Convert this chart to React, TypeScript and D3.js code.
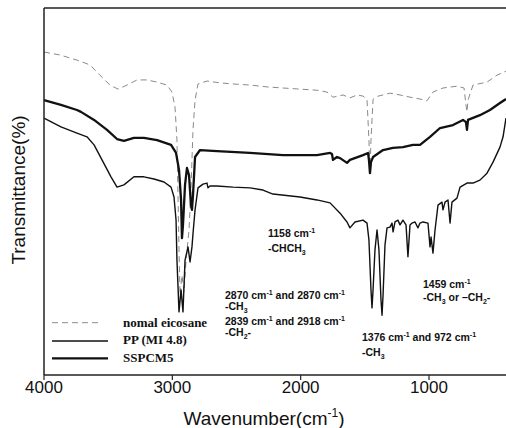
import React from "react";
import * as d3 from "d3";

// FTIR spectra: [wavenumber (cm^-1), transmittance (%)]
const eicosane: [number, number][] = [
  [4000, 88.0], [3875, 87.2], [3743, 85.8], [3642, 84.5], [3564, 81.7], [3486, 79.0],
  [3423, 77.9], [3353, 79.0], [3275, 80.4], [3197, 80.4], [3119, 79.8], [3042, 79.0],
  [3003, 77.1], [2979, 73.0], [2964, 64.0], [2948, 34.1], [2940, 21.8], [2925, 27.2],
  [2909, 22.6], [2893, 31.3], [2870, 39.5], [2855, 50.4], [2839, 66.8], [2823, 74.9],
  [2800, 79.3], [2730, 80.1], [2629, 79.6], [2527, 79.3], [2395, 79.0], [2262, 78.5],
  [2138, 78.2], [2005, 77.9], [1873, 77.6], [1795, 77.1], [1748, 75.7], [1670, 76.3],
  [1616, 75.5], [1561, 76.3], [1514, 76.0], [1483, 75.1], [1468, 64.0], [1460, 55.3],
  [1452, 64.0], [1436, 75.1], [1405, 75.9], [1304, 76.8], [1226, 76.3], [1148, 75.7],
  [1070, 75.2], [1016, 74.7], [969, 77.1], [891, 78.2], [782, 78.7], [727, 78.2],
  [712, 73.6], [704, 71.7], [696, 74.9], [657, 79.0], [548, 79.8], [470, 81.7], [400, 82.8],
];

const ppMi48: [number, number][] = [
  [4000, 70.0], [3868, 67.6], [3743, 65.9], [3665, 64.9], [3610, 62.7], [3548, 58.6],
  [3478, 54.0], [3431, 51.2], [3377, 51.8], [3299, 54.0], [3221, 54.0], [3143, 53.4],
  [3065, 52.6], [3010, 51.2], [2987, 48.5], [2971, 42.2], [2964, 31.3], [2948, 17.2],
  [2932, 23.2], [2917, 17.2], [2901, 31.3], [2878, 34.9], [2862, 30.8], [2847, 34.9],
  [2839, 38.5], [2823, 45.0], [2800, 51.0], [2761, 52.0], [2730, 52.3], [2722, 51.0],
  [2706, 51.5], [2652, 51.5], [2527, 51.2], [2395, 51.0], [2294, 50.4], [2216, 49.3],
  [2005, 48.5], [1873, 47.7], [1771, 46.9], [1693, 44.1], [1639, 41.7], [1616, 40.1],
  [1577, 41.7], [1514, 42.2], [1483, 41.4], [1468, 36.8], [1452, 23.2], [1444, 18.3],
  [1436, 23.2], [1421, 34.1], [1405, 39.5], [1390, 34.1], [1374, 20.4], [1366, 16.3],
  [1358, 21.8], [1343, 35.4], [1327, 40.1], [1304, 40.3], [1288, 41.4], [1280, 39.0],
  [1265, 41.7], [1242, 42.2], [1226, 40.9], [1203, 42.2], [1179, 40.9], [1164, 32.2],
  [1148, 40.9], [1132, 41.4], [1109, 41.7], [1086, 40.1], [1070, 41.4], [1047, 41.7],
  [1008, 41.4], [992, 34.9], [984, 37.6], [969, 33.2], [953, 39.5], [930, 46.3],
  [899, 47.1], [891, 45.0], [875, 47.1], [852, 47.7], [836, 41.4], [821, 47.1],
  [782, 48.2], [758, 51.2], [704, 52.3], [657, 52.3], [603, 53.1], [548, 55.0],
  [501, 58.0], [447, 62.1], [423, 64.9], [400, 70.0],
];

const sspcm5: [number, number][] = [
  [4000, 74.9], [3868, 73.6], [3743, 72.2], [3712, 71.7], [3610, 69.5], [3509, 66.8],
  [3431, 64.3], [3377, 63.8], [3299, 64.6], [3221, 64.6], [3119, 64.0], [3010, 62.7],
  [2971, 60.5], [2948, 55.9], [2932, 47.7], [2925, 37.3], [2917, 40.9], [2901, 51.8],
  [2886, 56.4], [2870, 54.5], [2855, 46.3], [2847, 45.0], [2839, 49.0], [2823, 59.4],
  [2784, 61.3], [2652, 61.0], [2395, 60.5], [2138, 59.9], [1873, 59.9], [1771, 60.5],
  [1756, 60.2], [1748, 58.6], [1717, 59.4], [1693, 59.1], [1639, 57.8], [1616, 58.6],
  [1514, 59.9], [1475, 60.5], [1468, 58.6], [1460, 55.0], [1452, 58.0], [1436, 59.4],
  [1358, 61.3], [1281, 61.9], [1203, 62.1], [1125, 62.7], [1070, 62.7], [992, 64.9],
  [914, 67.3], [813, 68.1], [735, 69.5], [712, 68.9], [704, 66.8], [696, 69.5],
  [603, 70.8], [525, 72.2], [447, 74.1], [400, 75.2],
];

const xTicks = [4000, 3000, 2000, 1000];

const legendLabels = ["nomal eicosane", "PP (MI 4.8)", "SSPCM5"];

const W = 506;
const H = 428;
const left = 44;
const right = 506;
const top = 8;
const bottom = 375;

const x = d3.scaleLinear().domain([4000, 400]).range([left, right]);
const y = d3.scaleLinear().domain([0, 100]).range([bottom, top]);

const line = d3
  .line<[number, number]>()
  .x((d) => x(d[0]))
  .y((d) => y(d[1]))
  .curve(d3.curveLinear);

const annFont = "'Liberation Sans', Arial, sans-serif";

function Sup({ children }: { children: React.ReactNode }) {
  return (
    <tspan fontSize="7" dy="-4">
      {children}
    </tspan>
  );
}

function Sub({ children }: { children: React.ReactNode }) {
  return (
    <tspan fontSize="7" dy="2.5">
      {children}
    </tspan>
  );
}

export default function App() {
  const legendStyles = [
    { stroke: "#8a8a8a", width: 1, dash: "6,4" },
    { stroke: "#111", width: 1.3, dash: undefined },
    { stroke: "#111", width: 2.2, dash: undefined },
  ];
  const legendY = [322.7, 341, 358.3];
  const legendBase = [327, 344, 362];

  return (
    <svg
      width={W}
      height={H}
      viewBox={`0 0 ${W} ${H}`}
      style={{ position: "absolute", left: 0, top: 0, background: "#fff" }}
    >
      <rect x={0} y={0} width={W} height={H} fill="#fff" />

      {/* spectra */}
      <path
        d={line(eicosane) ?? ""}
        fill="none"
        stroke="#8a8a8a"
        strokeWidth={1}
        strokeDasharray="6,4"
      />
      <path d={line(ppMi48) ?? ""} fill="none" stroke="#111" strokeWidth={1.4} strokeLinejoin="round" />
      <path d={line(sspcm5) ?? ""} fill="none" stroke="#111" strokeWidth={2.3} strokeLinejoin="round" />

      {/* frame */}
      <line x1={left} x2={right} y1={top} y2={top} stroke="#222" strokeWidth={1.3} />
      <line x1={left} x2={left} y1={top} y2={bottom} stroke="#222" strokeWidth={1.5} />
      <line x1={left} x2={right} y1={bottom} y2={bottom} stroke="#222" strokeWidth={1.5} />

      {/* x ticks */}
      {xTicks.map((t) => (
        <g key={t}>
          <line x1={x(t)} x2={x(t)} y1={bottom} y2={bottom + 5} stroke="#222" strokeWidth={1.2} />
          <text
            x={x(t)}
            y={393}
            textAnchor="middle"
            fontFamily="'Liberation Sans', Arial, sans-serif"
            fontSize={17}
            fill="#111"
          >
            {t}
          </text>
        </g>
      ))}

      {/* axis titles */}
      <text
        x={264}
        y={425}
        textAnchor="middle"
        fontFamily="'Liberation Sans', Arial, sans-serif"
        fontSize={19}
        fill="#111"
      >
        Wavenumber(cm
        <tspan fontSize="12" dy="-8">-1</tspan>
        <tspan dy="8">)</tspan>
      </text>
      <text
        transform="translate(25,190) rotate(-90)"
        textAnchor="middle"
        fontFamily="'Liberation Sans', Arial, sans-serif"
        fontSize={19}
        fill="#111"
      >
        Transmittance(%)
      </text>

      {/* legend */}
      {legendLabels.map((lab, i) => (
        <g key={lab}>
          <line
            x1={52}
            x2={i === 0 ? 102 : 108}
            y1={legendY[i]}
            y2={legendY[i]}
            stroke={legendStyles[i].stroke}
            strokeWidth={legendStyles[i].width}
            strokeDasharray={legendStyles[i].dash}
          />
          <text
            x={123}
            y={legendBase[i]}
            fontFamily="'Liberation Serif', 'Times New Roman', serif"
            fontWeight="bold"
            fontSize={13}
            fill="#111"
          >
            {lab}
          </text>
        </g>
      ))}

      {/* peak annotations */}
      <g fontFamily={annFont} fontWeight="bold" fontSize={10.5} fill="#111">
        <text x={268} y={237}>
          1158 cm<Sup>-1</Sup>
        </text>
        <text x={268} y={252}>
          -CHCH<Sub>3</Sub>
        </text>

        <text x={423} y={288}>
          1459 cm<Sup>-1</Sup>
        </text>
        <text x={423} y={301}>
          -CH<Sub>3</Sub>
          <tspan dy="-2.5"> or –CH</tspan>
          <Sub>2</Sub>
          <tspan dy="-2.5">-</tspan>
        </text>

        <text x={225} y={299}>
          2870 cm<Sup>-1</Sup>
          <tspan dy="4"> and 2870 cm</tspan>
          <Sup>-1</Sup>
        </text>
        <text x={225} y={310}>
          -CH<Sub>3</Sub>
        </text>
        <text x={225} y={325}>
          2839 cm<Sup>-1</Sup>
          <tspan dy="4"> and 2918 cm</tspan>
          <Sup>-1</Sup>
        </text>
        <text x={225} y={336}>
          -CH<Sub>2</Sub>
          <tspan dy="-2.5">-</tspan>
        </text>

        <text x={362} y={341}>
          1376 cm<Sup>-1</Sup>
          <tspan dy="4"> and 972 cm</tspan>
          <Sup>-1</Sup>
        </text>
        <text x={362} y={356}>
          -CH<Sub>3</Sub>
        </text>
      </g>
    </svg>
  );
}
